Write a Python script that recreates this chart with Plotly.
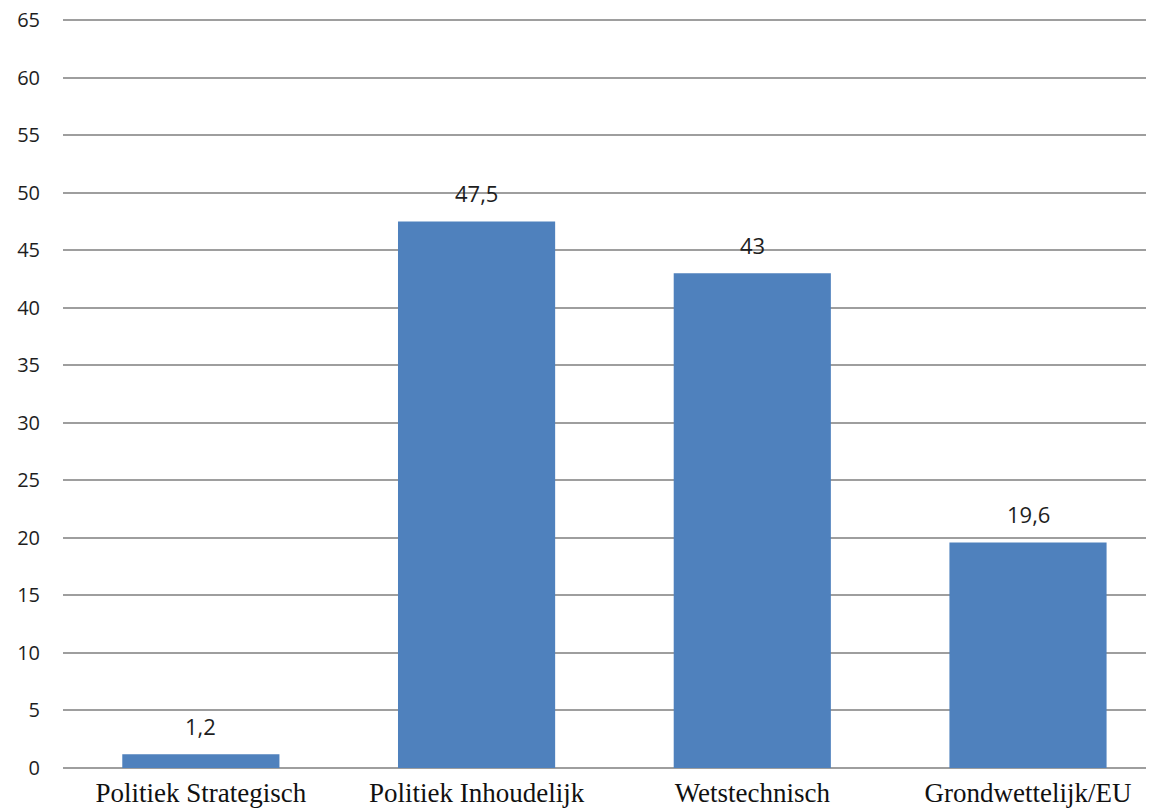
import plotly.graph_objects as go

categories = ["Politiek Strategisch", "Politiek Inhoudelijk", "Wetstechnisch", "Grondwettelijk/EU"]
values = [1.2, 47.5, 43, 19.6]
y_ticks = list(range(0, 70, 5))

labels = [("%g" % v).replace(".", ",") for v in values]

fig = go.Figure()
fig.add_trace(go.Bar(
    x=categories, y=values, width=0.57,
    marker=dict(color="#4f81bd", line=dict(width=0)),
    hoverinfo="skip",
))
for c, v, t in zip(categories, values, labels):
    fig.add_annotation(x=c, y=v, text=t, showarrow=False, yanchor="middle",
                       yshift=28, font=dict(family="Open Sans, Noto Sans, sans-serif", size=22, color="#1e1e1e"))

# page body has an 8px margin; figure is sized so the plot lands where the reference's does
fig.update_layout(
    width=1146, height=802,
    margin=dict(l=55, r=0, t=11, b=42),
    paper_bgcolor="white", plot_bgcolor="white",
    showlegend=False,
    bargap=0.43,
    xaxis=dict(
        range=[-0.5, 3.457], showgrid=False, showline=False, zeroline=False,
        tickfont=dict(family="Liberation Serif, serif", size=27, color="#111111"),
        ticks="", ticklabelstandoff=6, automargin=False, ticklabeloverflow="allow",
    ),
    yaxis=dict(
        range=[0, 65.1], tickvals=y_ticks, showgrid=True, gridcolor="#9e9e9e", gridwidth=1.5,
        zeroline=True, zerolinecolor="#9e9e9e", zerolinewidth=1.5, showline=False,
        tickfont=dict(family="Open Sans, Noto Sans, sans-serif", size=20, color="#1e1e1e"),
        ticks="", ticklabelstandoff=22, automargin=False, ticklabeloverflow="allow",
    ),
)

fig.write_html("out.html")
